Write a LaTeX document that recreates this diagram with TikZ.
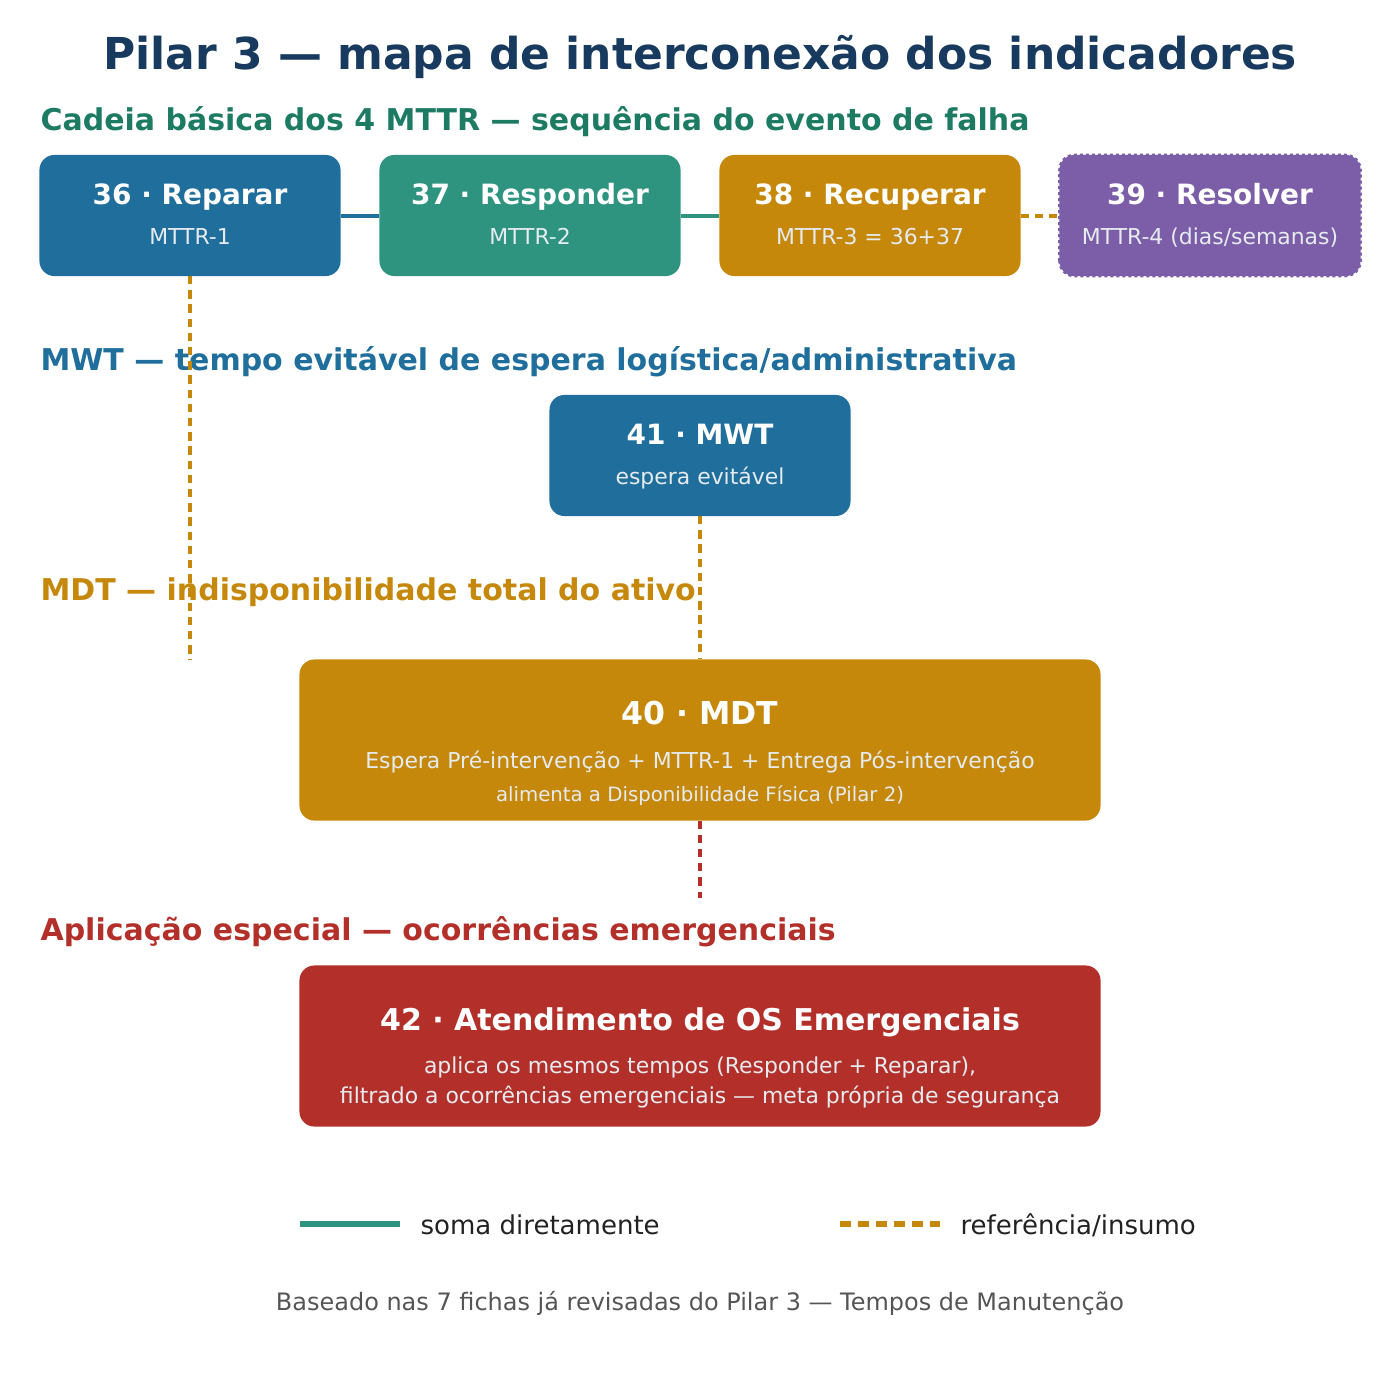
\documentclass[tikz,border=0pt]{standalone}
\usepackage{fontspec}
\setmainfont{DejaVu Sans}
\usetikzlibrary{positioning}
\definecolor{cnavy}{HTML}{173A5E}
\definecolor{cgreen}{HTML}{1E7B63}
\definecolor{cblue}{HTML}{1F6E9B}
\definecolor{cteal}{HTML}{2E9480}
\definecolor{cgold}{HTML}{C5880A}
\definecolor{cpurple}{HTML}{7B5EA7}
\definecolor{cred}{HTML}{B3302A}
\definecolor{csub}{HTML}{E6EBF0}
\definecolor{cfoot}{HTML}{555555}
\definecolor{clegend}{HTML}{222222}
\newcommand{\px}{0.365pt}
\newcommand{\fs}[1]{\fontsize{#1}{#1}\selectfont}
\tikzset{
  box/.style={rectangle, inner sep=0pt, minimum width=300*\px, minimum height=120*\px},
  widebox/.style={rectangle, inner sep=0pt, minimum width=800*\px, minimum height=160*\px},
  rc/.style={rounded corners=15*\px},
  btitle/.style={anchor=base, inner sep=0pt, text=white, font=\fs{10.2}\bfseries},
  bsub/.style={anchor=base, inner sep=0pt, text=csub, font=\fs{8}},
  header/.style={anchor=base west, inner sep=0pt, font=\fs{10.95}\bfseries},
  sumline/.style={line width=4*\px},
  refline/.style={line width=4*\px, dash pattern=on 8.3*\px off 5.9*\px},
  legtext/.style={anchor=base west, inner sep=0pt, text=clegend, font=\fs{9.5}},
}
\begin{document}
\begin{tikzpicture}[x=0.365pt, y=-0.365pt]
\useasboundingbox (0,0) rectangle (1400,1400);
\fill[white] (0,0) rectangle (1400,1400);

% title
\node[anchor=base, inner sep=0pt, text=cnavy, font=\fs{16.05}\bfseries] (title) at (700,69) {Pilar 3 — mapa de interconexão dos indicadores};

% headers
\node[header, text=cgreen] (h1) at (40,130) {Cadeia básica dos 4 MTTR — sequência do evento de falha};
\node[header, text=cblue] (h2) at (40,370) {MWT — tempo evitável de espera logística/administrativa};
\node[header, text=cgold] (h3) at (40,600) {MDT — indisponibilidade total do ativo};
\node[header, text=cred] (h4) at (40,940) {Aplicação especial — ocorrências emergenciais};

% coordinates for free ends
\coordinate (e36) at (190,660);
\coordinate (e40) at (700,898);

% boxes (positions)
\path (190,215.5) node[box] (b36) {};
\path (530,215.5) node[box] (b37) {};
\path (870,215.5) node[box] (b38) {};
\path (1210,215.5) node[box] (b39) {};
\path (700,455.5) node[box] (b41) {};
\path (700,740) node[widebox] (b40) {};
\path (700,1046) node[widebox] (b42) {};

% connectors
\draw[sumline, cblue] (b36.east) -- (b37.west);
\draw[sumline, cteal] (b37.east) -- (b38.west);
\draw[refline, cgold] (b38.east) -- (b39.west);
\draw[refline, cgold] (b36.south) -- (e36);
\draw[refline, cgold] (b41.south) -- (b40.north);
\draw[refline, cred] (b40.south) -- (e40);

% box fills
\fill[cblue, rc] (b36.south west) rectangle (b36.north east);
\fill[cteal, rc] (b37.south west) rectangle (b37.north east);
\fill[cgold, rc] (b38.south west) rectangle (b38.north east);
\fill[cpurple, rc] (b39.south west) rectangle (b39.north east);
\draw[cpurple, line width=2.5*\px, dash pattern=on 3*\px off 3*\px, rc] (b39.south west) rectangle (b39.north east);
\fill[cblue, rc] (b41.south west) rectangle (b41.north east);
\fill[cgold, rc] (b40.south west) rectangle (b40.north east);
\fill[cred, rc] (b42.south west) rectangle (b42.north east);

% box texts
\node[btitle] (t36) at (190,204.5) {36 · Reparar};
\node[bsub] (s36) at (190,244) {MTTR-1};
\node[btitle] (t37) at (530,204.5) {37 · Responder};
\node[bsub] (s37) at (530,244) {MTTR-2};
\node[btitle] (t38) at (870,204.5) {38 · Recuperar};
\node[bsub] (s38) at (870,244) {MTTR-3 = 36+37};
\node[btitle] (t39) at (1210,204.5) {39 · Resolver};
\node[bsub] (s39) at (1210,244) {MTTR-4 (dias/semanas)};
\node[btitle] (t41) at (700,444.5) {41 · MWT};
\node[bsub] (s41) at (700,484) {espera evitável};
\node[btitle, font=\fs{11.5}\bfseries] (t40) at (700,724) {40 · MDT};
\node[bsub] (s40a) at (700,768) {Espera Pré-intervenção + MTTR-1 + Entrega Pós-intervenção};
\node[bsub, font=\fs{7.2}] (s40b) at (700,801.5) {alimenta a Disponibilidade Física (Pilar 2)};
\node[btitle, font=\fs{10.95}\bfseries] (t42) at (700,1030.5) {42 · Atendimento de OS Emergenciais};
\node[bsub] (s42a) at (700,1073.5) {aplica os mesmos tempos (Responder + Reparar),};
\node[bsub] (s42b) at (700,1103.5) {filtrado a ocorrências emergenciais — meta própria de segurança};

% legend
\coordinate (l1a) at (300,1224);
\coordinate (l1b) at (400,1224);
\coordinate (l2a) at (840,1224);
\coordinate (l2b) at (940,1224);
\draw[cteal, line width=6*\px] (l1a) -- (l1b);
\draw[cgold, line width=6*\px, dash pattern=on 10.7*\px off 7.3*\px] (l2a) -- (l2b);
\node[legtext] (lt1) at (420,1234) {soma diretamente};
\node[legtext] (lt2) at (960,1234) {referência/insumo};

% footer
\node[anchor=base, inner sep=0pt, text=cfoot, font=\fs{8.75}] (foot) at (700,1310) {Baseado nas 7 fichas já revisadas do Pilar 3 — Tempos de Manutenção};
\end{tikzpicture}
\end{document}
